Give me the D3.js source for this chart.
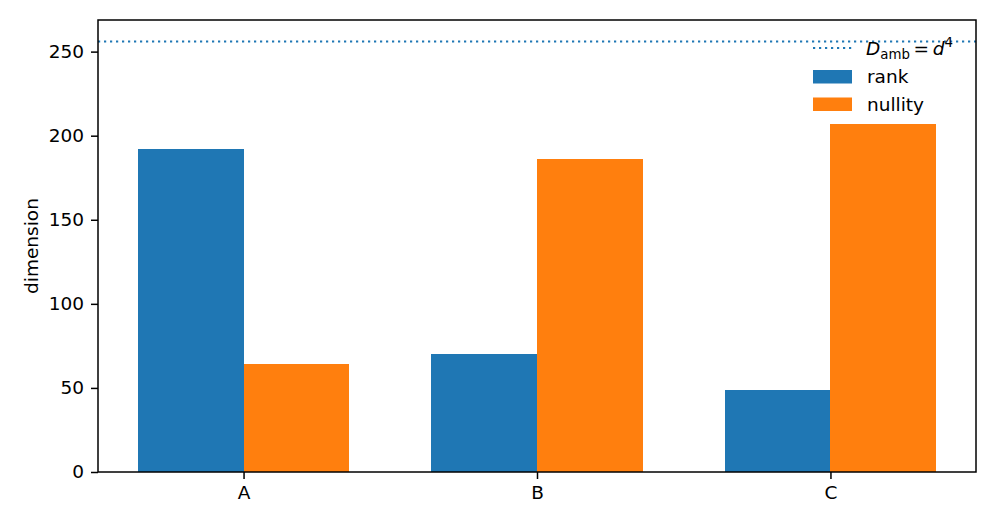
<!DOCTYPE html>
<html>
<head>
<meta charset="utf-8">
<script src="https://cdn.jsdelivr.net/npm/d3@7"></script>
<style>
  body { margin: 0; background: #fff; }
  svg text { font-family: "DejaVu Sans", sans-serif; fill: #000; }
</style>
</head>
<body>
<div id="chart"></div>
<script>
const categories = ["A", "B", "C"];
const rankValues = [192, 70, 49];
const nullityValues = [64, 186, 207];
const ambientDim = 256;
const yTicks = [0, 50, 100, 150, 200, 250];

const width = 997, height = 526;
const margin = { top: 20, right: 21, bottom: 54, left: 98 };
const barWidth = 0.36;
const fontSize = 18.5;

const svg = d3.select("#chart").append("svg")
    .attr("width", width)
    .attr("height", height);

// matplotlib style 5% margins
const xlo = -barWidth, xhi = categories.length - 1 + barWidth;
const xpad = (xhi - xlo) * 0.05;
const xScale = d3.scaleLinear()
    .domain([xlo - xpad, xhi + xpad])
    .range([margin.left, width - margin.right]);

const yScale = d3.scaleLinear()
    .domain([0, ambientDim * 1.05])
    .range([height - margin.bottom, margin.top]);

const bars = [];
categories.forEach((c, i) => {
    bars.push({ x0: i - barWidth, value: rankValues[i], color: "#1f77b4" });
    bars.push({ x0: i, value: nullityValues[i], color: "#ff7f0e" });
});

svg.append("g").selectAll("rect")
    .data(bars)
    .enter().append("rect")
    .attr("x", d => xScale(d.x0))
    .attr("y", d => yScale(d.value))
    .attr("width", d => xScale(d.x0 + barWidth) - xScale(d.x0))
    .attr("height", d => yScale(0) - yScale(d.value))
    .attr("fill", d => d.color)
    .attr("shape-rendering", "crispEdges");

// reference line
svg.append("line")
    .attr("x1", xScale.range()[0])
    .attr("x2", xScale.range()[1])
    .attr("y1", yScale(ambientDim))
    .attr("y2", yScale(ambientDim))
    .attr("stroke", "#1f77b4")
    .attr("stroke-width", 2.2)
    .attr("stroke-dasharray", "2.2,3.8");

// axes
const yAxis = svg.append("g")
    .attr("transform", `translate(${margin.left},0)`)
    .call(d3.axisLeft(yScale).tickValues(yTicks).tickSize(7).tickPadding(7).tickSizeOuter(0));

const xAxis = svg.append("g")
    .attr("transform", `translate(0,${height - margin.bottom})`)
    .call(d3.axisBottom(xScale).tickValues(d3.range(categories.length))
        .tickFormat(i => categories[i]).tickSize(7).tickPadding(7).tickSizeOuter(0));

[xAxis, yAxis].forEach(a => {
    a.select(".domain").remove();
    a.selectAll("line").attr("stroke", "#000").attr("stroke-width", 1.5);
    a.selectAll("text").attr("font-size", fontSize).attr("font-family", "DejaVu Sans");
});

// frame
svg.append("rect")
    .attr("x", xScale.range()[0])
    .attr("y", margin.top)
    .attr("width", xScale.range()[1] - xScale.range()[0])
    .attr("height", yScale(0) - margin.top)
    .attr("fill", "none")
    .attr("stroke", "#000")
    .attr("stroke-width", 1.5);

svg.append("text")
    .attr("transform", `translate(31,${(margin.top + yScale(0)) / 2}) rotate(-90)`)
    .attr("text-anchor", "middle")
    .attr("dominant-baseline", "central")
    .attr("font-size", fontSize)
    .text("dimension");

// legend
const legend = svg.append("g").attr("transform", "translate(813,0)");
legend.append("line")
    .attr("x1", 0).attr("x2", 39)
    .attr("y1", 48).attr("y2", 48)
    .attr("stroke", "#1f77b4")
    .attr("stroke-width", 2.2)
    .attr("stroke-dasharray", "2.2,3.8");

const lab = legend.append("text")
    .attr("x", 53)
    .attr("y", 55)
    .attr("font-size", fontSize);
lab.append("tspan").attr("font-style", "italic").text("D");
lab.append("tspan").attr("font-size", fontSize * 0.72).attr("dy", 4).text("amb");
lab.append("tspan").attr("dy", -4).text("\u2009=\u2009");
lab.append("tspan").attr("font-style", "italic").text("d");
lab.append("tspan").attr("font-size", fontSize * 0.72).attr("dy", -8).text("4");

const legendItems = [
    { label: "rank", color: "#1f77b4", y: 70 },
    { label: "nullity", color: "#ff7f0e", y: 97.5 }
];
legendItems.forEach(d => {
    legend.append("rect")
        .attr("x", 0).attr("y", d.y)
        .attr("width", 39).attr("height", 13.5)
        .attr("fill", d.color);
    legend.append("text")
        .attr("x", 54)
        .attr("y", d.y + 6.75)
        .attr("dominant-baseline", "central")
        .attr("font-size", fontSize)
        .text(d.label);
});
</script>
</body>
</html>
